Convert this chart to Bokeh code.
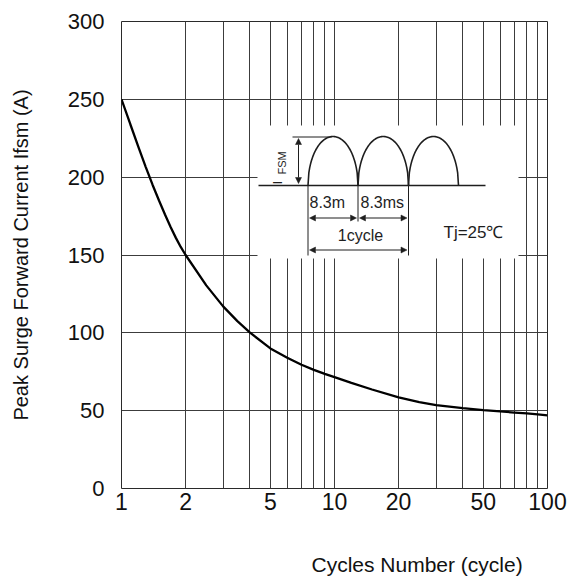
import math
import numpy as np
from bokeh.plotting import figure
from bokeh.models import Range1d, FixedTicker, Label, Arrow, NormalHead, Title
from bokeh.embed import file_html
from bokeh.resources import INLINE

# ---- data ----
cycles = [1, 1.1, 1.2, 1.3, 1.4, 1.5, 1.6, 1.7, 1.8, 1.9, 2, 2.5, 3, 3.5, 4, 5, 6, 7, 8, 9,
          10, 12, 15, 20, 25, 30, 40, 50, 60, 70, 80, 90, 100]
ifsm = [250, 234, 219.5, 206.5, 195, 185, 176, 168, 161, 155, 150, 130.5, 117, 107.5, 100.3, 90, 84, 79.5, 76.2, 73.6,
        71.5, 67.8, 63.6, 58.5, 55.5, 53.6, 51.7, 50.4, 49.5, 48.8, 48.2, 47.6, 47]

x_ticks = [1, 2, 5, 10, 20, 50, 100]
x_tick_labels = ["1", "2", "5", "10", "20", "50", "100"]
x_minor = [3, 4, 6, 7, 8, 9, 30, 40, 60, 70, 80, 90]
y_ticks = [0, 50, 100, 150, 200, 250, 300]
x_title = "Cycles Number (cycle)"
y_title = "Peak Surge Forward Current Ifsm (A)"

FONT = "Liberation Sans"
GRID = "#3c3c3c"
INK = "#1e1e1e"

p = figure(width=582, height=580, x_axis_type="log",
           x_range=Range1d(1, 100), y_range=Range1d(0, 300),
           output_backend="svg", toolbar_location=None,
           min_border_left=121, min_border_right=35,
           min_border_top=21, min_border_bottom=92)
p.background_fill_color = "white"
p.border_fill_color = "white"
p.outline_line_color = "#2a2a2a"
p.outline_line_width = 1

xt = FixedTicker(ticks=x_ticks, minor_ticks=x_minor)
yt = FixedTicker(ticks=y_ticks)
p.xaxis.ticker = xt
p.xgrid.ticker = xt
p.yaxis.ticker = yt
p.ygrid.ticker = yt
p.xaxis.major_label_overrides = dict(zip(x_ticks, x_tick_labels))

for g in (p.xgrid[0], p.ygrid[0]):
    g.grid_line_color = GRID
    g.grid_line_width = 1
    g.grid_line_alpha = 1
p.xgrid.minor_grid_line_color = GRID
p.xgrid.minor_grid_line_width = 1

for ax in (p.xaxis[0], p.yaxis[0]):
    ax.axis_line_color = None
    ax.major_tick_line_color = None
    ax.minor_tick_line_color = None
    ax.major_tick_out = 0
    ax.major_tick_in = 0
    ax.major_label_text_font = FONT
    ax.major_label_text_color = "#111111"
    ax.axis_label_text_font = FONT
    ax.axis_label_text_font_style = "normal"
    ax.axis_label_text_font_size = "20px"
    ax.axis_label_text_color = "#111111"

p.yaxis.major_label_text_font_size = "22px"
p.xaxis.major_label_text_font_size = "23px"
p.yaxis.major_label_standoff = 17
p.xaxis.major_label_standoff = 0
p.yaxis.axis_label = y_title
p.yaxis.axis_label_standoff = 33

# x-axis title, placed off-centre like the reference
p.add_layout(Title(text=x_title, align="left", offset=190, standoff=4,
                   padding=dict(left=0, right=0, top=36, bottom=0),
                   text_font=FONT, text_font_size="21px", text_font_style="normal",
                   text_color="#111111"), "below")

# ---- inset positions given in reference frame pixels, mapped to data ----
def X(px):
    return 10 ** (2.0 * (px - 121) / 426)

def Y(py):
    return 300.0 * (488 - py) / 467

p.quad(left=X(257), right=X(518), bottom=Y(258), top=Y(125),
       fill_color="white", line_color=None)

# main curve
p.line(cycles, ifsm, line_color="black", line_width=2.3)

# inset: baseline
p.line([X(258), X(485)], [Y(185), Y(185)], line_color=INK, line_width=1.5)
# half waves
t = np.linspace(0, 1, 61)
for x0, w in ((307.5, 50), (357.5, 50.5), (408, 50)):
    px = x0 + w * t
    py = 185 - 49 * np.sqrt(np.clip(1 - (2 * t - 1) ** 2, 0, 1))
    p.line([X(v) for v in px], [Y(v) for v in py], line_color=INK, line_width=1.6)

# peak reference line
p.line([X(292), X(331)], [Y(136.5), Y(136.5)], line_color=INK, line_width=1)
# extension lines
for xx, yb in ((307.5, 255), (357.5, 221), (408, 255)):
    p.line([X(xx), X(xx)], [Y(185), Y(yb)], line_color=INK, line_width=1)

def dim_arrow(x1, y1, x2, y2):
    a = Arrow(start=NormalHead(size=6, fill_color=INK, line_color=INK, line_width=0.5),
              end=NormalHead(size=6, fill_color=INK, line_color=INK, line_width=0.5),
              x_start=X(x1), y_start=Y(y1), x_end=X(x2), y_end=Y(y2),
              line_color=INK, line_width=1)
    p.add_layout(a)

dim_arrow(298, 183, 298, 138)
dim_arrow(309, 217.5, 356, 217.5)
dim_arrow(359, 217.5, 406.5, 217.5)
dim_arrow(309, 249.5, 406.5, 249.5)

def lab(px, py, txt, size, align="left", angle=0.0):
    p.add_layout(Label(x=X(px), y=Y(py), text=txt, text_font=FONT,
                       text_font_size=size, text_color=INK, text_align=align,
                       text_baseline="middle", angle=angle))

lab(309, 202, "8.3m", "16px")
lab(360, 202, "8.3ms", "16px")
lab(360, 235, "1cycle", "16px", align="center")
lab(443, 232, "Tj=25℃", "17px")
lab(277, 184, "I", "13px", angle=math.pi / 2)
lab(281, 174, "FSM", "11px", angle=math.pi / 2)

open("out.html", "w").write(file_html(p, INLINE))
